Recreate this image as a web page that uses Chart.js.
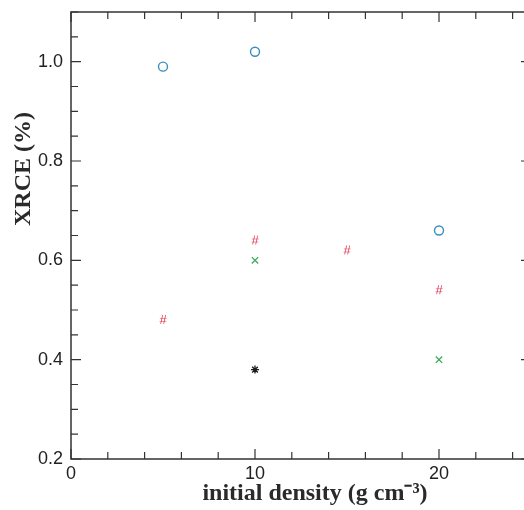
<!DOCTYPE html>
<html>
<head>
<meta charset="utf-8">
<style>
html,body{margin:0;padding:0;background:#fff;overflow:hidden;}
#wrap{width:531px;height:510px;position:relative;}
</style>
<script src="https://cdn.jsdelivr.net/npm/chart.js@4/dist/chart.umd.min.js"></script>
</head>
<body>
<div id="wrap"><canvas id="c" width="531" height="510"></canvas></div>
<script>
// ---- data ----
const circleX = [5, 10, 20];
const circleY = [0.99, 1.02, 0.66];
const hashX = [5, 10, 15, 20];
const hashY = [0.48, 0.64, 0.62, 0.54];
const crossX = [10, 20];
const crossY = [0.60, 0.40];
const starX = [10];
const starY = [0.38];
const xTickLabels = [0, 10, 20];
const yTickLabels = [0.2, 0.4, 0.6, 0.8, 1.0];
const xTitle = 'initial density (g cm\u207B\u00B3)';
const yTitle = 'XRCE (%)';

function pts(xs, ys){ return xs.map((x,i)=>({x:x, y:ys[i]})); }

// '#' marker as canvas
const hashImg = document.createElement('canvas');
hashImg.width = 12; hashImg.height = 14;
(function(){
  const g = hashImg.getContext('2d');
  g.fillStyle = '#dc2f48';
  g.font = '13px "Liberation Sans", Arial, sans-serif';
  g.textAlign = 'center'; g.textBaseline = 'middle';
  g.fillText('#', 6, 7.5);
})();

const AXC = '#333';

const frame = {
  id: 'frame',
  afterDraw(chart){
    const ctx = chart.ctx, a = chart.chartArea;
    const xs = chart.scales.x, ys = chart.scales.y;
    ctx.save();
    ctx.strokeStyle = AXC; ctx.lineWidth = 1.5;
    ctx.beginPath();
    ctx.moveTo(a.left, a.top); ctx.lineTo(a.right, a.top);
    ctx.lineTo(a.right, a.bottom); ctx.lineTo(a.left, a.bottom);
    ctx.closePath(); ctx.stroke();
    ctx.lineWidth = 1.2;
    ctx.beginPath();
    for (let v = 0; v <= 25.001; v += 2) {
      const px = xs.getPixelForValue(v);
      const major = Math.abs(v % 10) < 1e-6;
      const len = major ? 10 : 7;
      ctx.moveTo(px, a.bottom); ctx.lineTo(px, a.bottom - len);
      ctx.moveTo(px, a.top); ctx.lineTo(px, a.top + len);
    }
    for (let k = 0; k <= 18; k++) {
      const v = 0.2 + k * 0.05;
      const py = ys.getPixelForValue(v);
      const major = (k % 4) === 0;
      const len = major ? 10 : 7;
      ctx.moveTo(a.left, py); ctx.lineTo(a.left + len, py);
      ctx.moveTo(a.right, py); ctx.lineTo(a.right - len, py);
    }
    ctx.stroke();
    // titles
    ctx.fillStyle = '#2a2a2a';
    ctx.font = 'bold 24px "Liberation Serif", "Times New Roman", serif';
    ctx.textAlign = 'center'; ctx.textBaseline = 'middle';
    ctx.fillText(xTitle, 315, 494);
    ctx.translate(24, 169);
    ctx.rotate(-Math.PI/2);
    ctx.fillText(yTitle, 0, 0);
    ctx.restore();
  }
};

function zeroPad(s){ s.paddingTop = 0; s.paddingBottom = 0; s.paddingLeft = 0; s.paddingRight = 0; }

new Chart(document.getElementById('c'), {
  type: 'scatter',
  data: {
    datasets: [
      { label: 'o', data: pts(circleX, circleY), pointStyle: 'circle', pointRadius: 4.5, pointHoverRadius: 4.5,
        borderColor: '#3a8dc2', backgroundColor: 'rgba(0,0,0,0)', borderWidth: 1.4 },
      { label: '#', data: pts(hashX, hashY), pointStyle: hashImg, pointRadius: 6 },
      { label: 'x', data: pts(crossX, crossY), pointStyle: 'crossRot', pointRadius: 4.5, pointHoverRadius: 4.5,
        borderColor: '#3aa85e', backgroundColor: '#3aa85e', borderWidth: 1.3 },
      { label: '*', data: pts(starX, starY), pointStyle: 'star', pointRadius: 4, pointHoverRadius: 4,
        borderColor: '#1a1a1a', backgroundColor: '#1a1a1a', borderWidth: 1.3 }
    ]
  },
  options: {
    responsive: false,
    animation: false,
    events: [],
    layout: { autoPadding: false, padding: { top: 12, right: 0, left: 0, bottom: 0 } },
    plugins: { legend: { display: false }, tooltip: { enabled: false } },
    scales: {
      x: {
        type: 'linear', min: 0, max: 25,
        grid: { display: false, tickLength: 0, drawTicks: false }, border: { display: false },
        afterBuildTicks(s){ s.ticks = xTickLabels.map(v=>({value:v})); },
        afterFit(s){ s.height = 51; zeroPad(s); },
        ticks: { padding: 4, color: '#222', maxRotation: 0,
          font: { family: '"Liberation Sans", Arial, sans-serif', size: 18 },
          callback: v => String(v) }
      },
      y: {
        type: 'linear', min: 0.2, max: 1.1,
        grid: { display: false, tickLength: 0, drawTicks: false }, border: { display: false },
        afterBuildTicks(s){ s.ticks = yTickLabels.map(v=>({value:v})); },
        afterFit(s){ s.width = 71; zeroPad(s); },
        ticks: { padding: 8, color: '#222',
          font: { family: '"Liberation Sans", Arial, sans-serif', size: 18 },
          callback: v => Number(v).toFixed(1) }
      }
    }
  },
  plugins: [frame]
});
</script>
</body>
</html>
